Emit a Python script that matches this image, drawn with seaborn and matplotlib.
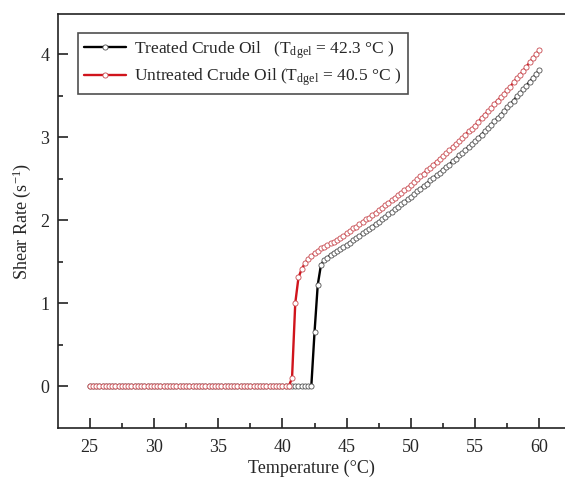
import numpy as np
import pandas as pd
import matplotlib
matplotlib.use('Agg')
import matplotlib.pyplot as plt
import seaborn as sns

# --- dados ---
temperatura = [
    25.00, 25.25, 25.50, 25.75, 26.00, 26.25, 26.50, 26.75,
    27.00, 27.25, 27.50, 27.75, 28.00, 28.25, 28.50, 28.75,
    29.00, 29.25, 29.50, 29.75, 30.00, 30.25, 30.50, 30.75,
    31.00, 31.25, 31.50, 31.75, 32.00, 32.25, 32.50, 32.75,
    33.00, 33.25, 33.50, 33.75, 34.00, 34.25, 34.50, 34.75,
    35.00, 35.25, 35.50, 35.75, 36.00, 36.25, 36.50, 36.75,
    37.00, 37.25, 37.50, 37.75, 38.00, 38.25, 38.50, 38.75,
    39.00, 39.25, 39.50, 39.75, 40.00, 40.25, 40.50, 40.75,
    41.00, 41.25, 41.50, 41.75, 42.00, 42.25, 42.50, 42.75,
    43.00, 43.25, 43.50, 43.75, 44.00, 44.25, 44.50, 44.75,
    45.00, 45.25, 45.50, 45.75, 46.00, 46.25, 46.50, 46.75,
    47.00, 47.25, 47.50, 47.75, 48.00, 48.25, 48.50, 48.75,
    49.00, 49.25, 49.50, 49.75, 50.00, 50.25, 50.50, 50.75,
    51.00, 51.25, 51.50, 51.75, 52.00, 52.25, 52.50, 52.75,
    53.00, 53.25, 53.50, 53.75, 54.00, 54.25, 54.50, 54.75,
    55.00, 55.25, 55.50, 55.75, 56.00, 56.25, 56.50, 56.75,
    57.00, 57.25, 57.50, 57.75, 58.00, 58.25, 58.50, 58.75,
    59.00, 59.25, 59.50, 59.75, 60.00,
]

# oleo tratado: zero ate 42.25 °C
taxa_tratado = [
    0.00, 0.00, 0.00, 0.00, 0.00, 0.00, 0.00, 0.00,
    0.00, 0.00, 0.00, 0.00, 0.00, 0.00, 0.00, 0.00,
    0.00, 0.00, 0.00, 0.00, 0.00, 0.00, 0.00, 0.00,
    0.00, 0.00, 0.00, 0.00, 0.00, 0.00, 0.00, 0.00,
    0.00, 0.00, 0.00, 0.00, 0.00, 0.00, 0.00, 0.00,
    0.00, 0.00, 0.00, 0.00, 0.00, 0.00, 0.00, 0.00,
    0.00, 0.00, 0.00, 0.00, 0.00, 0.00, 0.00, 0.00,
    0.00, 0.00, 0.00, 0.00, 0.00, 0.00, 0.00, 0.00,
    0.00, 0.00, 0.00, 0.00, 0.00, 0.00, 0.65, 1.22,
    1.46, 1.52, 1.55, 1.58, 1.61, 1.63, 1.65, 1.68,
    1.70, 1.73, 1.76, 1.78, 1.81, 1.84, 1.87, 1.89,
    1.92, 1.95, 1.98, 2.01, 2.04, 2.07, 2.10, 2.13,
    2.16, 2.19, 2.22, 2.25, 2.28, 2.31, 2.35, 2.38,
    2.41, 2.44, 2.48, 2.51, 2.54, 2.57, 2.61, 2.64,
    2.67, 2.71, 2.74, 2.78, 2.81, 2.85, 2.88, 2.92,
    2.95, 2.99, 3.03, 3.07, 3.11, 3.15, 3.19, 3.23,
    3.27, 3.31, 3.36, 3.40, 3.44, 3.49, 3.53, 3.58,
    3.62, 3.67, 3.71, 3.76, 3.81,
]

# oleo nao tratado: zero ate 40.5 °C
taxa_nao_tratado = [
    0.00, 0.00, 0.00, 0.00, 0.00, 0.00, 0.00, 0.00,
    0.00, 0.00, 0.00, 0.00, 0.00, 0.00, 0.00, 0.00,
    0.00, 0.00, 0.00, 0.00, 0.00, 0.00, 0.00, 0.00,
    0.00, 0.00, 0.00, 0.00, 0.00, 0.00, 0.00, 0.00,
    0.00, 0.00, 0.00, 0.00, 0.00, 0.00, 0.00, 0.00,
    0.00, 0.00, 0.00, 0.00, 0.00, 0.00, 0.00, 0.00,
    0.00, 0.00, 0.00, 0.00, 0.00, 0.00, 0.00, 0.00,
    0.00, 0.00, 0.00, 0.00, 0.00, 0.00, 0.00, 0.10,
    1.00, 1.31, 1.41, 1.48, 1.53, 1.57, 1.60, 1.63,
    1.66, 1.68, 1.70, 1.72, 1.74, 1.76, 1.78, 1.81,
    1.84, 1.87, 1.90, 1.92, 1.95, 1.98, 2.01, 2.03,
    2.06, 2.09, 2.12, 2.15, 2.18, 2.21, 2.24, 2.27,
    2.30, 2.33, 2.36, 2.39, 2.42, 2.46, 2.49, 2.53,
    2.56, 2.60, 2.63, 2.67, 2.70, 2.74, 2.77, 2.81,
    2.84, 2.88, 2.92, 2.95, 2.99, 3.03, 3.07, 3.10,
    3.14, 3.18, 3.23, 3.27, 3.31, 3.35, 3.40, 3.44,
    3.48, 3.52, 3.57, 3.61, 3.66, 3.71, 3.75, 3.80,
    3.85, 3.90, 3.95, 4.00, 4.05,
]

rotulos = [
    'Treated Crude Oil   (T$_{\\mathrm{dgel}}$ = 42.3 °C )',
    'Untreated Crude Oil (T$_{\\mathrm{dgel}}$ = 40.5 °C )',
]
cores = ['black', '#d0141c']
cores_marcador = ['#505050', '#c84a50']

df = pd.DataFrame({
    'Temperatura': temperatura + temperatura,
    'Taxa': taxa_tratado + taxa_nao_tratado,
    'Amostra': [rotulos[0]] * len(temperatura) + [rotulos[1]] * len(temperatura),
})

# --- estilo ---
sns.set_style('ticks')
plt.rcParams['font.family'] = ['Liberation Serif', 'DejaVu Serif']
plt.rcParams['mathtext.fontset'] = 'custom'
plt.rcParams['mathtext.rm'] = 'Liberation Serif'
plt.rcParams['mathtext.it'] = 'Liberation Serif:italic'

fig = plt.figure(figsize=(5.65, 4.78), dpi=100)
ax = fig.add_axes([0.102, 0.1052, 0.898, 0.8649])

for rotulo, cor, cor_m in zip(rotulos, cores, cores_marcador):
    sub = df[df['Amostra'] == rotulo]
    sns.lineplot(data=sub, x='Temperatura', y='Taxa', ax=ax, color=cor,
                 linewidth=1.7, marker='o', markersize=3.7,
                 markerfacecolor='white', markeredgecolor=cor_m,
                 markeredgewidth=0.6, label=rotulo, sort=False)

ax.set_xlim(22.5, 62.0)
ax.set_ylim(-0.5, 4.48)
ax.set_xticks([25, 30, 35, 40, 45, 50, 55, 60])
ax.set_xticks([27.5, 32.5, 37.5, 42.5, 47.5, 52.5, 57.5], minor=True)
ax.set_yticks([0, 1, 2, 3, 4])
ax.set_yticks([0.5, 1.5, 2.5, 3.5], minor=True)

ax.tick_params(axis='both', which='major', direction='in', length=7, width=1.2,
               labelsize=13, color='#222222')
ax.tick_params(axis='both', which='minor', direction='in', length=3.5, width=1.2,
               color='#222222')
ax.tick_params(axis='x', which='major', pad=8)
ax.tick_params(axis='y', which='major', pad=6)

for lado in ['left', 'bottom', 'top']:
    ax.spines[lado].set_linewidth(1.2)
    ax.spines[lado].set_color('#222222')
ax.spines['right'].set_visible(False)

ax.set_xlabel('Temperature (°C)', fontsize=13, labelpad=2.5)
ax.set_ylabel('Shear Rate (s$^{-1}$)', fontsize=13, labelpad=5)

leg = ax.legend(loc='upper left', bbox_to_anchor=(0.04, 0.955), borderaxespad=0,
                fontsize=12.5, frameon=True, fancybox=False, edgecolor='#222222',
                handlelength=2.4, handletextpad=0.5, labelspacing=0.35,
                borderpad=0.35, numpoints=1)
leg.get_frame().set_linewidth(1.2)

fig.savefig('out.png', dpi=100)
